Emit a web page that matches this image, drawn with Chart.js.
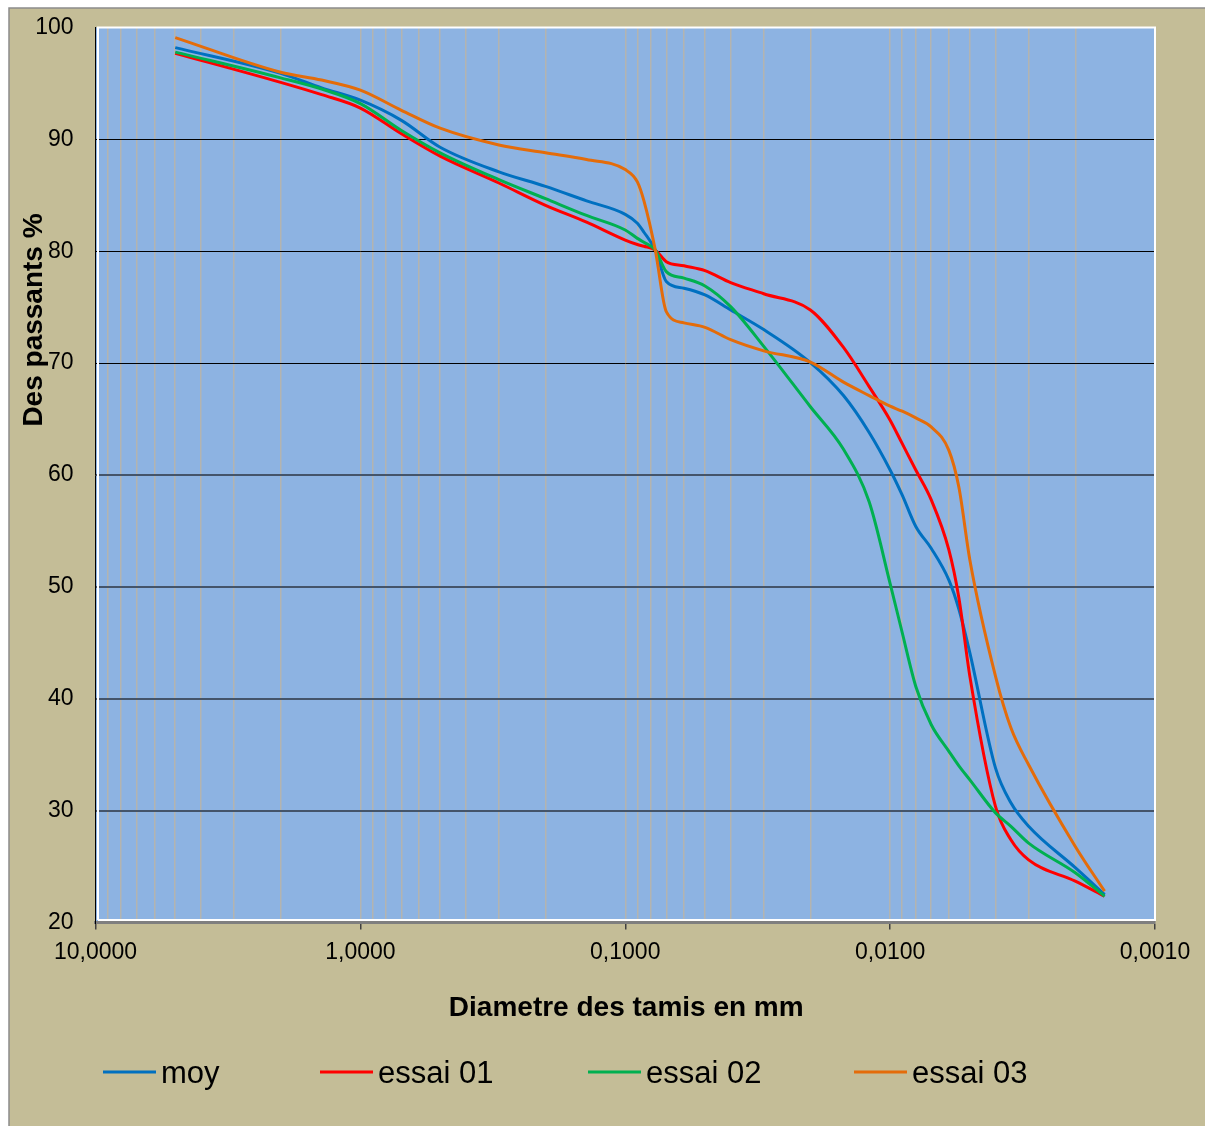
<!DOCTYPE html>
<html>
<head>
<meta charset="utf-8">
<script src="https://cdn.jsdelivr.net/npm/chart.js@4.4.1/dist/chart.umd.min.js"></script>
<style>
html,body{margin:0;padding:0;background:#ffffff;overflow:hidden;}
#c{display:block;}
</style>
</head>
<body>
<canvas id="c" width="1205" height="1126"></canvas>
<script>
// ---- data ----
const diameters = [5, 2, 1.4, 1, 0.7, 0.5, 0.3, 0.2, 0.14, 0.1, 0.09, 0.085, 0.077, 0.07, 0.06, 0.05, 0.04, 0.03, 0.02, 0.015, 0.012, 0.01, 0.009, 0.008, 0.007, 0.006, 0.0055, 0.005, 0.004, 0.0035, 0.003, 0.002, 0.00155];
const moy     = [98.2, 95.9, 94.6, 93.5, 91.7, 89.3, 87.1, 85.8, 84.5, 83.3, 82.5, 81.7, 80.1, 77.3, 76.7, 76.1, 74.75, 73.0, 70.05, 67.1, 63.8, 60.45, 58.2, 55.4, 53.45, 50.6, 48.0, 44.1, 33.8, 30.7, 28.6, 24.9, 22.5];
const essai01 = [97.7, 95.1, 94.0, 92.8, 90.5, 88.5, 86.1, 84.1, 82.6, 81.0, 80.6, 80.45, 80.1, 79.07, 78.7, 78.27, 77.2, 76.2, 74.75, 71.4, 67.9, 64.9, 62.8, 60.45, 57.8, 53.3, 49.0, 42.0, 30.35, 27.4, 25.6, 23.7, 22.35];
const essai02 = [97.8, 95.5, 94.5, 93.2, 90.8, 88.8, 86.4, 84.7, 83.2, 81.9, 81.15, 80.8, 80.1, 78.18, 77.6, 76.9, 75.05, 71.5, 66.1, 62.3, 57.6, 50.3, 45.9, 41.1, 37.7, 35.3, 34.0, 32.75, 29.8, 28.6, 27.1, 24.45, 22.35];
const essai03 = [99.1, 96.0, 95.3, 94.4, 92.6, 91.0, 89.5, 88.8, 88.2, 87.3, 86.2, 84.5, 80.1, 74.6, 73.6, 73.2, 72.1, 71.1, 70.1, 68.3, 67.1, 66.15, 65.7, 65.1, 64.3, 62.2, 58.9, 52.4, 42.0, 37.4, 34.1, 26.8, 22.8];
const seriesLabels = ['moy', 'essai 01', 'essai 02', 'essai 03'];
const xDecadeTicks = [10, 1, 0.1, 0.01, 0.001];
const yTicks = [20, 30, 40, 50, 60, 70, 80, 90, 100];
const xTitle = 'Diametre des tamis en mm';
const yTitle = 'Des passants %';

// ---- styling ----
const FONT = '"Liberation Sans", Arial, Helvetica, sans-serif';
const colors = ['#0070C0', '#FF0000', '#00B050', '#E46C0A'];
const seriesValues = [moy, essai01, essai02, essai03];

// minor log grid positions (k x decade)
const gridValues = [];
xDecadeTicks.forEach(d => {
  if (d === 10) { gridValues.push(10); return; }
  for (let k = 9; k >= 1; k--) gridValues.push(k * d);
});
gridValues.sort((a, b) => b - a);

const isDecade = v => xDecadeTicks.some(d => Math.abs(v / d - 1) < 1e-6);
const isEdgeX = v => Math.abs(v / 10 - 1) < 1e-6 || Math.abs(v / 0.001 - 1) < 1e-6;
const fmtX = v => v.toFixed(4).replace('.', ',');

const datasets = seriesValues.map((vals, i) => ({
  label: seriesLabels[i],
  data: diameters.map((d, j) => ({x: d, y: vals[j]})),
  borderColor: colors[i],
  backgroundColor: colors[i],
  borderWidth: 3,
  pointRadius: 0,
  fill: false,
  cubicInterpolationMode: 'monotone',
  order: 4 - i
}));

const legendX = [103, 320, 588, 854];

const decor = {
  id: 'decor',
  beforeDraw(chart) {
    const {ctx, chartArea: a} = chart;
    const W = chart.width, H = chart.height;
    ctx.save();
    ctx.fillStyle = '#ffffff';
    ctx.fillRect(0, 0, W, H);
    ctx.fillStyle = '#C4BD97';
    ctx.fillRect(9, 8, W - 9, H - 8);
    ctx.strokeStyle = '#8C8C8C';
    ctx.lineWidth = 1.5;
    ctx.beginPath();
    ctx.moveTo(9, H); ctx.lineTo(9, 8); ctx.lineTo(W, 8);
    ctx.stroke();
    ctx.fillStyle = '#8DB3E2';
    ctx.fillRect(a.left, a.top, a.right - a.left, a.bottom - a.top);
    ctx.restore();
  },
  beforeDatasetsDraw(chart) {
    const {ctx, chartArea: a} = chart;
    ctx.save();
    ctx.strokeStyle = '#ffffff';
    ctx.lineWidth = 2;
    ctx.beginPath();
    ctx.moveTo(a.left + 2.5, a.bottom - 2.5);
    ctx.lineTo(a.left + 2.5, a.top);
    ctx.lineTo(a.right, a.top);
    ctx.lineTo(a.right, a.bottom - 2.5);
    ctx.lineTo(a.left + 2.5, a.bottom - 2.5);
    ctx.stroke();
    ctx.restore();
  },
  afterDraw(chart) {
    const {ctx, chartArea: a} = chart;
    ctx.save();
    ctx.fillStyle = '#000000';
    // x title
    ctx.font = 'bold 28px ' + FONT;
    ctx.textAlign = 'center';
    ctx.textBaseline = 'middle';
    ctx.fillText(xTitle, (a.left + a.right) / 2 + 1, 1008);
    // y title
    ctx.save();
    ctx.translate(34, 320);
    ctx.rotate(-Math.PI / 2);
    ctx.fillText(yTitle, 0, 0);
    ctx.restore();
    // legend
    ctx.font = '31px ' + FONT;
    ctx.textAlign = 'left';
    ctx.textBaseline = 'alphabetic';
    chart.data.datasets.forEach((ds, i) => {
      const x0 = legendX[i];
      const y = 1072;
      ctx.strokeStyle = ds.borderColor;
      ctx.lineWidth = 3;
      ctx.beginPath();
      ctx.moveTo(x0, y);
      ctx.lineTo(x0 + 53, y);
      ctx.stroke();
      ctx.fillStyle = '#000000';
      ctx.fillText(ds.label, x0 + 58, y + 10.5);
    });
    ctx.restore();
  }
};

new Chart(document.getElementById('c'), {
  type: 'line',
  data: {datasets},
  plugins: [decor],
  options: {
    responsive: false,
    animation: false,
    devicePixelRatio: 1,
    layout: {padding: {left: 0, top: 27.5, right: 50, bottom: 0}},
    plugins: {legend: {display: false}, tooltip: {enabled: false}, title: {display: false}},
    scales: {
      x: {
        type: 'logarithmic',
        reverse: true,
        min: 0.001,
        max: 10,
        afterBuildTicks(scale) { scale.ticks = gridValues.map(v => ({value: v})); },
        afterFit(scale) {
          scale.height = 203.5;
          scale.paddingLeft = 0; scale.paddingRight = 0;
          scale.paddingTop = 0; scale.paddingBottom = 0;
        },
        border: {display: true, color: '#7F7F7F', width: 3},
        grid: {
          drawOnChartArea: true,
          drawTicks: true,
          tickLength: 7,
          color: ctx => (ctx.tick && isEdgeX(ctx.tick.value)) ? 'rgba(0,0,0,0)' : '#B3B4B0',
          lineWidth: 1.5,
          tickColor: ctx => (ctx.tick && isDecade(ctx.tick.value)) ? '#404040' : 'rgba(0,0,0,0)',
          tickWidth: 1.5
        },
        ticks: {
          autoSkip: false,
          maxRotation: 0,
          minRotation: 0,
          padding: 9,
          color: '#000000',
          font: {family: FONT, size: 23},
          callback: v => isDecade(v) ? fmtX(v) : ''
        }
      },
      y: {
        type: 'linear',
        min: 20,
        max: 100,
        afterBuildTicks(scale) { scale.ticks = yTicks.map(v => ({value: v})); },
        afterFit(scale) {
          scale.width = 95.5;
          scale.paddingTop = 0; scale.paddingBottom = 0;
          scale.paddingLeft = 0; scale.paddingRight = 0;
        },
        border: {display: true, color: '#000000', width: 1},
        grid: {
          drawTicks: false,
          color: ctx => {
            const v = ctx.tick ? ctx.tick.value : 0;
            if (v <= 20 || v >= 100) return 'rgba(0,0,0,0)';
            return v >= 70 ? '#000000' : '#44546A';
          },
          lineWidth: ctx => (ctx.tick && ctx.tick.value >= 70) ? 1 : 2
        },
        ticks: {
          padding: 22,
          color: '#000000',
          font: {family: FONT, size: 23},
          callback: v => String(v)
        }
      }
    }
  }
});
</script>
</body>
</html>
